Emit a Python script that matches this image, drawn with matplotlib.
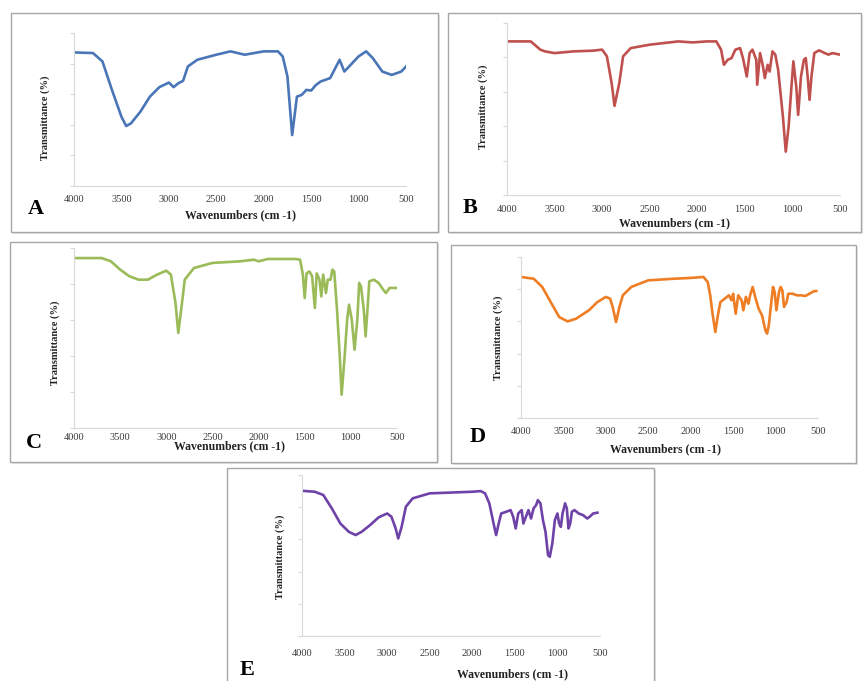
import matplotlib
matplotlib.use('Agg')
from matplotlib import pyplot as plt
from matplotlib.patches import Rectangle

W, H = 863, 681

# wavenumber (cm-1) / transmittance (relative %)
wn_a = [4000, 3800, 3700, 3600, 3500, 3450, 3400, 3300, 3200, 3100, 3000, 2950, 2900, 2850,
        2800, 2700, 2500, 2350, 2200, 2000, 1850, 1800, 1750, 1700, 1650, 1600, 1550, 1500,
        1450, 1400, 1300, 1200, 1150, 1100, 1000, 920, 850, 750, 650, 550, 500]
tr_a = [87.3, 86.9, 81.4, 62.8, 45.3, 39.2, 40.9, 48.6, 58.4, 64.6, 67.6, 64.6, 67.2, 68.7,
        78.1, 82.5, 85.8, 88.0, 85.8, 88.0, 88.0, 84.7, 71.6, 33.3, 58.4, 59.5, 62.8, 62.4,
        66.0, 68.3, 70.5, 82.5, 74.8, 78.1, 84.7, 88.0, 83.6, 74.8, 72.6, 74.8, 78.1]

wn_b = [4000, 3750, 3650, 3600, 3500, 3300, 3100, 3000, 2950, 2900, 2870, 2820, 2780, 2700,
        2500, 2200, 2050, 1900, 1800, 1750, 1720, 1680, 1640, 1600, 1550, 1520, 1480, 1450,
        1420, 1380, 1370, 1340, 1310, 1290, 1260, 1240, 1210, 1180, 1150, 1100, 1070, 1040,
        1010, 990, 960, 940, 910, 880, 860, 840, 820, 800, 770, 720, 660, 620, 580, 500]
tr_b = [89.3, 89.3, 84.5, 83.5, 82.5, 83.5, 83.9, 84.5, 80.6, 65.0, 51.8, 65.0, 80.6, 85.4,
        87.4, 89.3, 88.7, 89.3, 89.3, 84.5, 75.7, 78.6, 79.6, 84.5, 85.4, 79.6, 68.9, 82.5,
        84.5, 78.6, 64.1, 82.5, 74.8, 68.0, 75.7, 71.8, 83.5, 81.6, 72.8, 45.6, 25.2, 39.8,
        63.1, 77.7, 63.1, 46.6, 68.9, 78.6, 79.6, 68.9, 55.3, 68.9, 82.5, 84.1, 82.5, 81.6,
        82.5, 81.6]

wn_c = [4000, 3700, 3600, 3500, 3400, 3300, 3200, 3100, 3000, 2950, 2900, 2870, 2830, 2800,
        2700, 2500, 2200, 2050, 2000, 1900, 1600, 1550, 1520, 1500, 1480, 1450, 1420, 1390,
        1370, 1340, 1320, 1300, 1270, 1250, 1220, 1200, 1180, 1150, 1120, 1100, 1070, 1040,
        1020, 990, 960, 930, 910, 890, 860, 840, 820, 800, 750, 700, 650, 620, 580, 500]
tr_c = [94.4, 94.4, 92.6, 88.0, 84.3, 82.4, 82.4, 85.2, 87.4, 85.2, 69.4, 52.8, 69.4, 82.4,
        88.9, 91.7, 92.6, 93.5, 92.6, 93.9, 93.9, 93.5, 85.2, 72.2, 85.9, 87.0, 84.3, 66.7,
        85.9, 82.4, 73.1, 85.2, 75.0, 82.4, 82.4, 88.0, 87.0, 65.7, 39.8, 18.5, 38.0, 60.2,
        68.5, 60.2, 43.5, 60.2, 80.6, 78.7, 65.7, 50.9, 65.7, 81.5, 82.4, 80.6, 76.9, 75.0,
        77.8, 77.8]

wn_d = [4000, 3850, 3750, 3650, 3550, 3450, 3350, 3200, 3100, 3000, 2950, 2920, 2880, 2840,
        2800, 2700, 2500, 2200, 2000, 1850, 1800, 1770, 1740, 1710, 1680, 1650, 1600, 1550,
        1520, 1500, 1470, 1440, 1400, 1380, 1350, 1320, 1300, 1270, 1240, 1200, 1160, 1120,
        1100, 1080, 1050, 1030, 1010, 990, 960, 940, 920, 900, 870, 850, 800, 750, 700, 650,
        600, 550, 520]
tr_d = [87.6, 86.5, 81.4, 72.0, 62.7, 60.0, 61.7, 66.9, 72.0, 75.2, 74.1, 69.0, 59.6, 69.0,
        76.2, 81.4, 85.5, 86.5, 87.0, 87.6, 84.5, 76.2, 63.8, 53.4, 63.8, 72.0, 74.1, 76.2,
        73.1, 77.2, 64.8, 76.2, 73.1, 66.9, 75.2, 71.0, 76.2, 81.4, 75.2, 67.9, 63.8, 54.5,
        52.4, 57.6, 72.0, 81.4, 78.1, 66.9, 78.1, 81.4, 79.3, 69.0, 72.0, 77.2, 77.2, 76.2,
        76.2, 75.8, 77.2, 78.7, 78.9]

wn_e = [4000, 3850, 3750, 3650, 3550, 3450, 3370, 3300, 3200, 3100, 3000, 2950, 2900, 2870,
        2830, 2780, 2700, 2500, 2200, 2000, 1900, 1850, 1800, 1750, 1720, 1690, 1660, 1600,
        1550, 1520, 1490, 1460, 1420, 1400, 1370, 1340, 1310, 1280, 1250, 1230, 1200, 1170,
        1140, 1110, 1090, 1060, 1030, 1000, 980, 960, 940, 910, 890, 870, 850, 830, 800, 750,
        700, 650, 620, 580, 530]
tr_e = [90.2, 89.6, 87.6, 79.3, 69.9, 64.7, 62.7, 64.7, 68.9, 73.7, 76.1, 74.1, 66.8, 60.6,
        67.8, 80.3, 85.5, 88.6, 89.2, 89.6, 90.0, 88.6, 82.4, 69.9, 62.7, 69.9, 76.1, 77.2,
        78.2, 74.1, 66.8, 76.1, 78.2, 69.9, 74.1, 78.2, 73.0, 79.3, 81.3, 84.4, 82.4, 72.0,
        64.7, 50.2, 49.2, 57.5, 72.0, 76.1, 69.9, 67.8, 76.1, 82.4, 79.3, 66.8, 69.9, 77.2,
        78.2, 76.1, 75.1, 73.0, 74.1, 76.1, 76.6]

x_ticks = [4000, 3500, 3000, 2500, 2000, 1500, 1000, 500]
panel_names = ['A', 'B', 'C', 'D', 'E']
line_colors = ['#4A76B8', '#C0504D', '#9BBB59', '#EE7D24', '#6F42A8']

# layout in pixels: frame box, axes box, text spots
frames = [(11, 13, 438, 232), (448, 13, 861, 232), (10, 242, 437, 462),
          (451, 245, 856, 463), (227, 468, 654, 690)]
axes_px = [(74, 33, 406, 186), (507, 23, 840, 195), (74, 248, 397, 428),
           (521, 257, 818, 418), (302, 475, 600, 636)]
tick_y = [200, 210, 437, 432, 653]
letter_xy = [(36, 209), (470, 208), (34, 443), (478, 437), (247, 670)]
xlabel_xy = [(240, 215), (674, 223), (230, 446), (665, 449), (512, 674)]
ylabel_xy = [(45, 118), (483, 107), (55, 343), (498, 338), (280, 557)]


def fx(x):
    return x / W


def fy(y):
    return 1 - y / H


def draw_panel(fig, i, wn, tr):
    x0, y0, x1, y1 = frames[i]
    fig.patches.append(Rectangle((fx(x0 + 1.5), fy(y1 + 1.5)), (x1 - x0) / W, (y1 - y0) / H,
                                 transform=fig.transFigure, facecolor='#E6E6E6',
                                 edgecolor='none', zorder=-2))
    fig.patches.append(Rectangle((fx(x0), fy(y1)), (x1 - x0) / W, (y1 - y0) / H,
                                 transform=fig.transFigure, facecolor='white',
                                 edgecolor='#A6A6A6', linewidth=1.0, zorder=-1))

    a0, b0, a1, b1 = axes_px[i]
    ax = fig.add_axes([fx(a0), fy(b1), (a1 - a0) / W, (b1 - b0) / H])
    ax.set_zorder(2)
    ax.patch.set_alpha(0)
    ax.plot(wn, tr, color=line_colors[i], linewidth=1.9, solid_joinstyle='round')
    ax.set_xlim(4000, 500)
    ax.set_ylim(0, 100)
    ax.set_xticks(x_ticks)
    ax.set_yticks([0, 20, 40, 60, 80, 100])
    ax.set_yticklabels([])
    for s in ['top', 'right']:
        ax.spines[s].set_visible(False)
    for s in ['left', 'bottom']:
        ax.spines[s].set_color('#D9D9D9')
        ax.spines[s].set_linewidth(0.8)
    pad = (tick_y[i] - b1 - 4.5) * 0.72
    ax.tick_params(axis='x', length=0, pad=pad, labelsize=7.5, labelcolor='#3A3A3A')
    ax.tick_params(axis='y', length=3, direction='out', color='#D9D9D9')
    for lab in ax.get_xticklabels():
        lab.set_family('Liberation Serif')

    lx, ly = letter_xy[i]
    fig.text(fx(lx), fy(ly), panel_names[i], family='Liberation Serif', weight='bold',
             fontsize=16, ha='center', va='center')
    tx, ty = xlabel_xy[i]
    fig.text(fx(tx), fy(ty), 'Wavenumbers (cm -1)', family='Liberation Serif', weight='bold',
             fontsize=8.5, ha='center', va='center', color='#222222')
    vx, vy = ylabel_xy[i]
    fig.text(fx(vx), fy(vy), 'Transmittance (%)', family='Liberation Serif', weight='bold',
             fontsize=7.5, ha='center', va='center', rotation=90, color='#222222')


def main():
    fig = plt.figure(figsize=(W / 100, H / 100), dpi=100)
    data = [(wn_a, tr_a), (wn_b, tr_b), (wn_c, tr_c), (wn_d, tr_d), (wn_e, tr_e)]
    for i, (wn, tr) in enumerate(data):
        draw_panel(fig, i, wn, tr)
    fig.savefig('out.png', dpi=100)


if __name__ == "__main__":
    main()
